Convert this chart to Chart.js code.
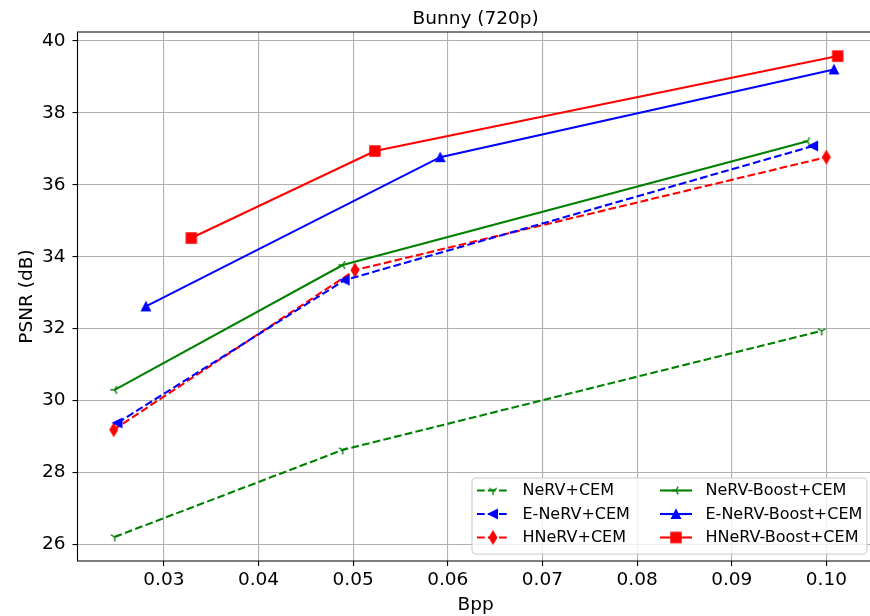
<!DOCTYPE html>
<html>
<head>
<meta charset="utf-8">
<script src="https://cdn.jsdelivr.net/npm/chart.js@4/dist/chart.umd.min.js"></script>
<style>
  html, body { margin: 0; padding: 0; background: #fff; overflow: hidden; }
  canvas { display: block; }
</style>
</head>
<body>
<canvas id="chart" width="870" height="616"></canvas>
<script>
// Axis ticks
const xTicks = [0.03, 0.04, 0.05, 0.06, 0.07, 0.08, 0.09, 0.10];
const xTickLabels = ['0.03', '0.04', '0.05', '0.06', '0.07', '0.08', '0.09', '0.10'];
const yTicks = [26, 28, 30, 32, 34, 36, 38, 40];
const yTickLabels = ['26', '28', '30', '32', '34', '36', '38', '40'];

// Rate-distortion points: bits per pixel vs PSNR (dB)
const nervCemBpp = [0.0248, 0.0489, 0.0995];
const nervCemPsnr = [26.21, 28.63, 31.94];
const enervCemBpp = [0.0251, 0.0491, 0.0986];
const enervCemPsnr = [29.38, 33.35, 37.08];
const hnervCemBpp = [0.0247, 0.0502, 0.1000];
const hnervCemPsnr = [29.19, 33.63, 36.77];
const nervBoostBpp = [0.0248, 0.0489, 0.0980];
const nervBoostPsnr = [30.30, 33.77, 37.21];
const enervBoostBpp = [0.0281, 0.0592, 0.1008];
const enervBoostPsnr = [32.62, 36.77, 39.21];
const hnervBoostBpp = [0.0329, 0.0523, 0.1012];
const hnervBoostPsnr = [34.52, 36.94, 39.58];

const FONT = "'DejaVu Sans', 'Liberation Sans', sans-serif";
const AXIS_FONT_SIZE = 18.5;
const GREEN = '#008000', BLUE = '#0000ff', RED = '#ff0000';
const DASH = [7.7, 3.3];
// full x extent of the axes; the right part runs past the canvas edge
const X_MIN = 0.020875, X_AXES_MAX = 0.105025, X_VISIBLE_MAX = 0.10461;

// Small canvases used as point styles (matplotlib-like markers)
function marker(kind, color) {
  const S = 22;
  const c = document.createElement('canvas');
  c.width = S; c.height = S;
  const g = c.getContext('2d');
  g.translate(S / 2, S / 2);
  g.strokeStyle = color; g.fillStyle = color;
  g.lineWidth = 1.4; g.lineJoin = 'miter'; g.lineCap = 'butt';
  const poly = (pts) => {
    g.beginPath();
    pts.forEach((p, i) => i ? g.lineTo(p[0], p[1]) : g.moveTo(p[0], p[1]));
    g.closePath(); g.fill(); g.stroke();
  };
  const spokes = (pts) => {
    g.beginPath();
    pts.forEach(p => { g.moveTo(0, 0); g.lineTo(p[0], p[1]); });
    g.stroke();
  };
  const L = 4.4, h = 4.3;
  switch (kind) {
    case 'triDown': spokes([[0, L], [0.866 * L, -0.5 * L], [-0.866 * L, -0.5 * L]]); break;
    case 'triLeft': spokes([[-L, 0], [0.5 * L, -0.866 * L], [0.5 * L, 0.866 * L]]); break;
    case 'left': poly([[-h, 0], [h, -h], [h, h]]); break;
    case 'up': poly([[0, -h], [h, h], [-h, h]]); break;
    case 'thinDiamond': poly([[0, -6.2], [3.7, 0], [0, 6.2], [-3.7, 0]]); break;
    case 'square': poly([[-5, -5], [5, -5], [5, 5], [-5, 5]]); break;
  }
  return c;
}

function series(label, bpp, psnr, color, dashed, kind) {
  return {
    label,
    data: bpp.map((x, i) => ({ x, y: psnr[i] })),
    borderColor: color,
    backgroundColor: color,
    borderWidth: 2.1,
    borderDash: dashed ? DASH : [],
    pointStyle: marker(kind, color),
    pointRadius: 6,
    pointHoverRadius: 6,
    tension: 0,
    fill: false,
    showLine: true
  };
}

const datasets = [
  series('NeRV+CEM', nervCemBpp, nervCemPsnr, GREEN, true, 'triDown'),
  series('E-NeRV+CEM', enervCemBpp, enervCemPsnr, BLUE, true, 'left'),
  series('HNeRV+CEM', hnervCemBpp, hnervCemPsnr, RED, true, 'thinDiamond'),
  series('NeRV-Boost+CEM', nervBoostBpp, nervBoostPsnr, GREEN, false, 'triLeft'),
  series('E-NeRV-Boost+CEM', enervBoostBpp, enervBoostPsnr, BLUE, false, 'up'),
  series('HNeRV-Boost+CEM', hnervBoostBpp, hnervBoostPsnr, RED, false, 'square')
];

function axesRightPx(chart) {
  const a = chart.chartArea;
  return a.left + (a.right - a.left) * (X_AXES_MAX - X_MIN) / (X_VISIBLE_MAX - X_MIN);
}

// Axes frame, title, x label and the two-column legend
const decorations = {
  id: 'decorations',
  afterDatasetsDraw(chart) {
    const { ctx, chartArea: a } = chart;
    ctx.save();
    ctx.strokeStyle = '#000';
    ctx.lineWidth = 1.1;
    ctx.beginPath();
    ctx.moveTo(a.right + 2, a.top);
    ctx.lineTo(a.left, a.top);
    ctx.lineTo(a.left, a.bottom);
    ctx.lineTo(a.right + 2, a.bottom);
    ctx.stroke();
    ctx.restore();
  },
  afterDraw(chart) {
    const { ctx, chartArea: a } = chart;
    const cx = (a.left + axesRightPx(chart)) / 2;
    ctx.save();
    ctx.fillStyle = '#000';
    ctx.font = AXIS_FONT_SIZE + 'px ' + FONT;
    ctx.textAlign = 'center';
    ctx.textBaseline = 'alphabetic';
    ctx.fillText('Bunny (720p)', cx, 23.5);
    ctx.fillText('Bpp', cx, 610);

    // legend box
    const bx = 472, by = 478, bw = 395, bh = 76, r = 4;
    ctx.beginPath();
    ctx.moveTo(bx + r, by);
    ctx.arcTo(bx + bw, by, bx + bw, by + bh, r);
    ctx.arcTo(bx + bw, by + bh, bx, by + bh, r);
    ctx.arcTo(bx, by + bh, bx, by, r);
    ctx.arcTo(bx, by, bx + bw, by, r);
    ctx.closePath();
    ctx.fillStyle = 'rgba(255,255,255,0.8)';
    ctx.fill();
    ctx.strokeStyle = '#cccccc';
    ctx.lineWidth = 1.1;
    ctx.stroke();

    const cols = [477, 660];
    const rows = [490.5, 514, 537.5];
    chart.data.datasets.forEach((ds, i) => {
      const col = Math.floor(i / 3), row = i % 3;
      const x0 = cols[col], y = rows[row];
      ctx.beginPath();
      ctx.setLineDash(ds.borderDash);
      ctx.strokeStyle = ds.borderColor;
      ctx.lineWidth = ds.borderWidth;
      ctx.moveTo(x0, y);
      ctx.lineTo(x0 + 32, y);
      ctx.stroke();
      ctx.setLineDash([]);
      const img = ds.pointStyle;
      ctx.drawImage(img, x0 + 16 - img.width / 2, y - img.height / 2);
      ctx.fillStyle = '#000';
      ctx.font = '16px ' + FONT;
      ctx.textAlign = 'left';
      ctx.textBaseline = 'middle';
      ctx.fillText(ds.label, x0 + 45.5, y + 0.5);
    });
    ctx.restore();
  }
};

const gridOpts = {
  color: '#b0b0b0',
  lineWidth: 1.1,
  drawTicks: true,
  tickLength: 5,
  tickColor: '#000',
  tickWidth: 1.1
};

new Chart(document.getElementById('chart'), {
  type: 'line',
  data: { datasets },
  plugins: [decorations],
  options: {
    responsive: false,
    animation: false,
    devicePixelRatio: 1,
    layout: { autoPadding: false, padding: { top: 32, right: 0, bottom: 0, left: 0 } },
    plugins: { legend: { display: false }, tooltip: { enabled: false }, title: { display: false } },
    scales: {
      x: {
        type: 'linear',
        min: X_MIN,
        max: X_VISIBLE_MAX,
        afterBuildTicks: s => { s.ticks = xTicks.map(v => ({ value: v })); },
        afterFit: s => { s.height = 55; },
        ticks: {
          callback: (v, i) => xTickLabels[i],
          font: { family: FONT, size: AXIS_FONT_SIZE },
          color: '#000',
          padding: 3,
          maxRotation: 0,
          autoSkip: false
        },
        grid: gridOpts,
        border: { display: false },
        title: { display: false }
      },
      y: {
        type: 'linear',
        min: 25.54,
        max: 40.25,
        afterBuildTicks: s => { s.ticks = yTicks.map(v => ({ value: v })); },
        afterFit: s => { s.width = 77.5; },
        ticks: {
          callback: (v, i) => yTickLabels[i],
          font: { family: FONT, size: AXIS_FONT_SIZE },
          color: '#000',
          padding: 7,
          autoSkip: false
        },
        grid: gridOpts,
        border: { display: false },
        title: { display: true, text: 'PSNR (dB)', color: '#000', font: { family: FONT, size: AXIS_FONT_SIZE }, padding: { top: 16, bottom: 0 } }
      }
    }
  }
});
</script>
</body>
</html>
